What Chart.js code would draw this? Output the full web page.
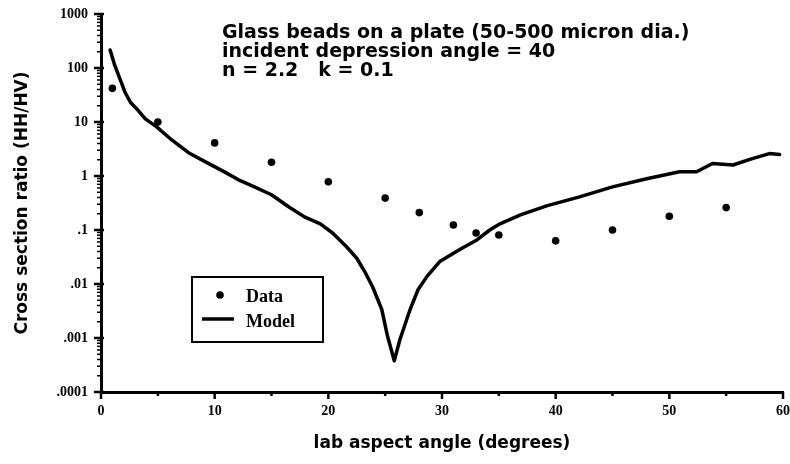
<!DOCTYPE html>
<html>
<head>
<meta charset="utf-8">
<script src="https://cdn.jsdelivr.net/npm/chart.js@4.4.0/dist/chart.umd.min.js"></script>
<style>
  html, body { margin: 0; padding: 0; background: #fff; }
  #wrap { width: 790px; height: 464px; }
</style>
</head>
<body>
<div id="wrap"><canvas id="chart" width="790" height="464"></canvas></div>
<script>
// measured HH/HV ratio
const dataAngle = [1, 5, 10, 15, 20, 25, 28, 31, 33, 35, 40, 45, 50, 55];
const dataRatio = [42, 10, 4.1, 1.8, 0.78, 0.39, 0.21, 0.124, 0.088, 0.081, 0.063, 0.1, 0.18, 0.26];

// model curve
const modelAngle = [0.8, 1.2, 1.7, 2.1, 2.6, 3.2, 3.9, 4.9, 6.2, 7.7, 9.4, 10.9, 12.1, 13.5, 15.0,
  16.5, 17.9, 19.3, 20.4, 21.6, 22.5, 23.2, 23.9, 24.7, 25.2, 25.8, 26.3, 27.2, 27.9, 28.7,
  29.8, 31.6, 33.1, 34.2, 35.1, 36.9, 39.2, 42.1, 45.0, 48.0, 50.9, 52.4, 53.8, 55.6, 57.3,
  58.8, 59.7];
const modelRatio = [215, 114, 60, 36, 23, 17, 11.4, 8.1, 4.7, 2.7, 1.73, 1.18, 0.85, 0.63, 0.45,
  0.27, 0.175, 0.13, 0.087, 0.049, 0.03, 0.017, 0.0088, 0.0034, 0.0011, 0.00038, 0.00094, 0.0034, 0.0079, 0.014,
  0.026, 0.044, 0.066, 0.1, 0.13, 0.19, 0.28, 0.41, 0.63, 0.89, 1.2, 1.2, 1.7, 1.6, 2.1,
  2.6, 2.5];

const xTickValues = [0, 10, 20, 30, 40, 50, 60];
const xTickLabels = ['0', '10', '20', '30', '40', '50', '60'];
const yTickValues = [0.0001, 0.001, 0.01, 0.1, 1, 10, 100, 1000];
const yTickLabels = ['.0001', '.001', '.01', '.1', '1', '10', '100', '1000'];

const noteLines = [
  'Glass beads on a plate (50-500 micron dia.)',
  'incident depression angle = 40',
  'n = 2.2   k = 0.1'
];

const INK = '#000';
const tickFont = { family: 'Liberation Serif', weight: 'bold', size: 14 };
const titleFont = { family: 'DejaVu Sans', weight: 'bold', size: 17 };

// tick marks drawn by hand so the minor log ticks can be shorter
const axisTicks = {
  id: 'axisTicks',
  afterDraw(chart) {
    const { ctx, chartArea, scales: { x, y } } = chart;
    ctx.save();
    ctx.strokeStyle = INK;
    yTickValues.forEach((v, i) => {
      const py = y.getPixelForValue(v);
      ctx.lineWidth = 2.5;
      ctx.beginPath();
      ctx.moveTo(chartArea.left - 7, py);
      ctx.lineTo(chartArea.left + 3, py);
      ctx.stroke();
      if (i === yTickValues.length - 1) return;
      ctx.lineWidth = 1.5;
      for (let k = 2; k <= 9; k++) {
        const pm = y.getPixelForValue(v * k);
        ctx.beginPath();
        ctx.moveTo(chartArea.left - 4, pm);
        ctx.lineTo(chartArea.left, pm);
        ctx.stroke();
      }
    });
    ctx.lineWidth = 2.5;
    x.ticks.forEach(t => {
      const px = x.getPixelForValue(t.value);
      const major = xTickValues.includes(t.value);
      ctx.beginPath();
      ctx.moveTo(px, chartArea.bottom);
      ctx.lineTo(px, chartArea.bottom + (major ? 7 : 4));
      ctx.stroke();
    });
    ctx.restore();
  }
};

const noteText = {
  id: 'noteText',
  afterDraw(chart) {
    const { ctx, chartArea } = chart;
    ctx.save();
    ctx.fillStyle = INK;
    ctx.font = 'bold 19px "DejaVu Sans"';
    ctx.textBaseline = 'alphabetic';
    noteLines.forEach((line, i) => {
      ctx.fillText(line, chartArea.left + 121, chartArea.top + 24 + i * 19);
    });
    ctx.restore();
  }
};

// boxed key in the lower left of the plot
const legendBox = {
  id: 'legendBox',
  afterDraw(chart) {
    const { ctx, chartArea } = chart;
    const bx = chartArea.left + 91, by = chartArea.top + 263;
    ctx.save();
    ctx.strokeStyle = INK;
    ctx.fillStyle = INK;
    ctx.lineWidth = 2;
    ctx.strokeRect(bx, by, 131, 65);
    ctx.beginPath();
    ctx.arc(bx + 28, by + 18, 3.8, 0, Math.PI * 2);
    ctx.fill();
    ctx.lineWidth = 3.5;
    ctx.beginPath();
    ctx.moveTo(bx + 10, by + 42);
    ctx.lineTo(bx + 42, by + 42);
    ctx.stroke();
    ctx.font = 'bold 18px "Liberation Serif"';
    ctx.fillText('Data', bx + 54, by + 25);
    ctx.fillText('Model', bx + 54, by + 50);
    ctx.restore();
  }
};

const ctx = document.getElementById('chart').getContext('2d');
new Chart(ctx, {
  type: 'scatter',
  data: {
    datasets: [
      {
        label: 'Model',
        data: modelAngle.map((a, i) => ({ x: a, y: modelRatio[i] })),
        showLine: true,
        borderColor: INK,
        borderWidth: 3.5,
        borderJoinStyle: 'round',
        borderCapStyle: 'round',
        pointRadius: 0,
        tension: 0
      },
      {
        label: 'Data',
        data: dataAngle.map((a, i) => ({ x: a, y: dataRatio[i] })),
        pointRadius: 3.8,
        backgroundColor: INK,
        borderWidth: 0
      }
    ]
  },
  options: {
    responsive: false,
    animation: false,
    events: [],
    layout: { padding: { top: 14, right: 7, left: 0, bottom: 0 } },
    plugins: { legend: { display: false }, tooltip: { enabled: false } },
    scales: {
      x: {
        type: 'linear',
        min: 0,
        max: 60,
        afterFit(scale) {
          scale.height = 72;
          scale.paddingLeft = 0;
          scale.paddingRight = 0;
        },
        grid: { display: false, drawTicks: false },
        border: { display: true, color: INK, width: 3 },
        ticks: {
          stepSize: 5,
          autoSkip: false,
          maxRotation: 0,
          padding: 11,
          color: INK,
          font: tickFont,
          callback(v) {
            const i = xTickValues.indexOf(v);
            return i < 0 ? '' : xTickLabels[i];
          }
        },
        title: {
          display: true,
          text: 'lab aspect angle (degrees)',
          color: INK,
          font: titleFont,
          padding: { top: 0, bottom: 10 }
        }
      },
      y: {
        type: 'logarithmic',
        min: 0.0001,
        max: 1000,
        afterFit(scale) {
          scale.width = 101;
          scale.paddingTop = 0;
          scale.paddingBottom = 0;
        },
        afterBuildTicks(scale) { scale.ticks = yTickValues.map(v => ({ value: v })); },
        grid: { display: false, drawTicks: false },
        border: { display: true, color: INK, width: 3 },
        ticks: {
          autoSkip: false,
          padding: 13,
          color: INK,
          font: tickFont,
          callback(v, i) { return yTickLabels[i]; }
        },
        title: {
          display: true,
          text: 'Cross section ratio (HH/HV)',
          color: INK,
          font: titleFont,
          padding: { top: 12, bottom: 0 }
        }
      }
    }
  },
  plugins: [axisTicks, noteText, legendBox]
});
</script>
</body>
</html>
